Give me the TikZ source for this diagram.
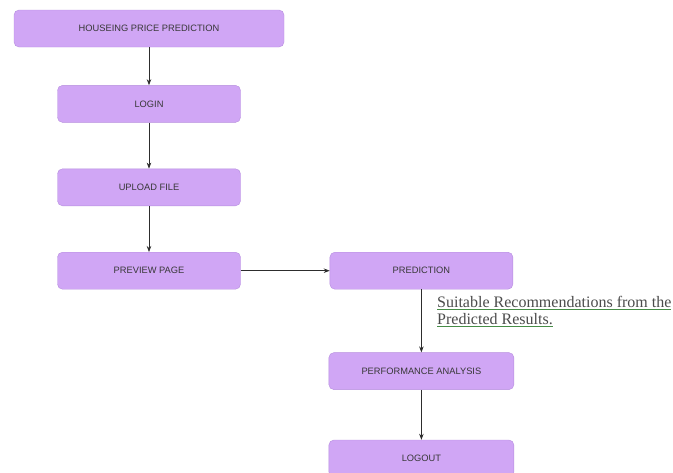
\documentclass[tikz,border=0pt]{standalone}
\usepackage{fontspec}
\setmainfont{Liberation Serif}
\newfontfamily\boxfont{Liberation Sans}
\usepackage{xcolor}
\usetikzlibrary{arrows.meta, positioning}
\definecolor{boxfill}{RGB}{208,166,245}
\definecolor{boxline}{RGB}{182,142,222}
\definecolor{textgray}{RGB}{55,55,55}
\definecolor{linegray}{RGB}{45,45,45}
\definecolor{ulgreen}{RGB}{70,140,70}
\definecolor{notegray}{RGB}{75,75,75}
\tikzset{
  block/.style = {rectangle, rounded corners=5pt, minimum width=183pt,
                  minimum height=37pt, text centered, draw=boxline,
                  fill=boxfill, text=textgray, font=\boxfont\fontsize{9.3}{11}\selectfont},
  arrow/.style = {draw=linegray, line width=0.7pt, -{Stealth[length=6pt,width=4.5pt]}}
}

\begin{document}
\begin{tikzpicture}
\useasboundingbox (0pt,0pt) rectangle (673pt,-472pt);

\node (house)   [block, minimum width=270pt] at (149pt,-28.5pt) {HOUSEING PRICE PREDICTION};
\node (login)   [block, below=38pt of house]   {LOGIN};
\node (upload)  [block, below=46pt of login]   {UPLOAD FILE};
\node (preview) [block, below=46pt of upload]  {PREVIEW PAGE};
\node (pred)    [block, right=89pt of preview] {PREDICTION};
\node (perf)    [block, below=63pt of pred, minimum width=185pt] {PERFORMANCE ANALYSIS};
\node (logout)  [block, below=50pt of perf, minimum width=185pt]  {LOGOUT};

% note beside the prediction link
\node (note) [anchor=north west, inner sep=0pt, align=left, text=notegray,
              font=\fontsize{16}{17.5}\selectfont] at (437pt,-296pt)
  {{\color{ulgreen}\underline{\color{notegray}Suitable Recommendations from the}}\\
   {\color{ulgreen}\underline{\color{notegray}Predicted Results.}}};

\draw [arrow] (house)   -- (login);
\draw [arrow] (login)   -- (upload);
\draw [arrow] (upload)  -- (preview);
\draw [arrow] (preview) -- (pred);
\draw [arrow] (pred)    -- (perf);
\draw [arrow] (perf)    -- (logout);

\end{tikzpicture}
\end{document}
